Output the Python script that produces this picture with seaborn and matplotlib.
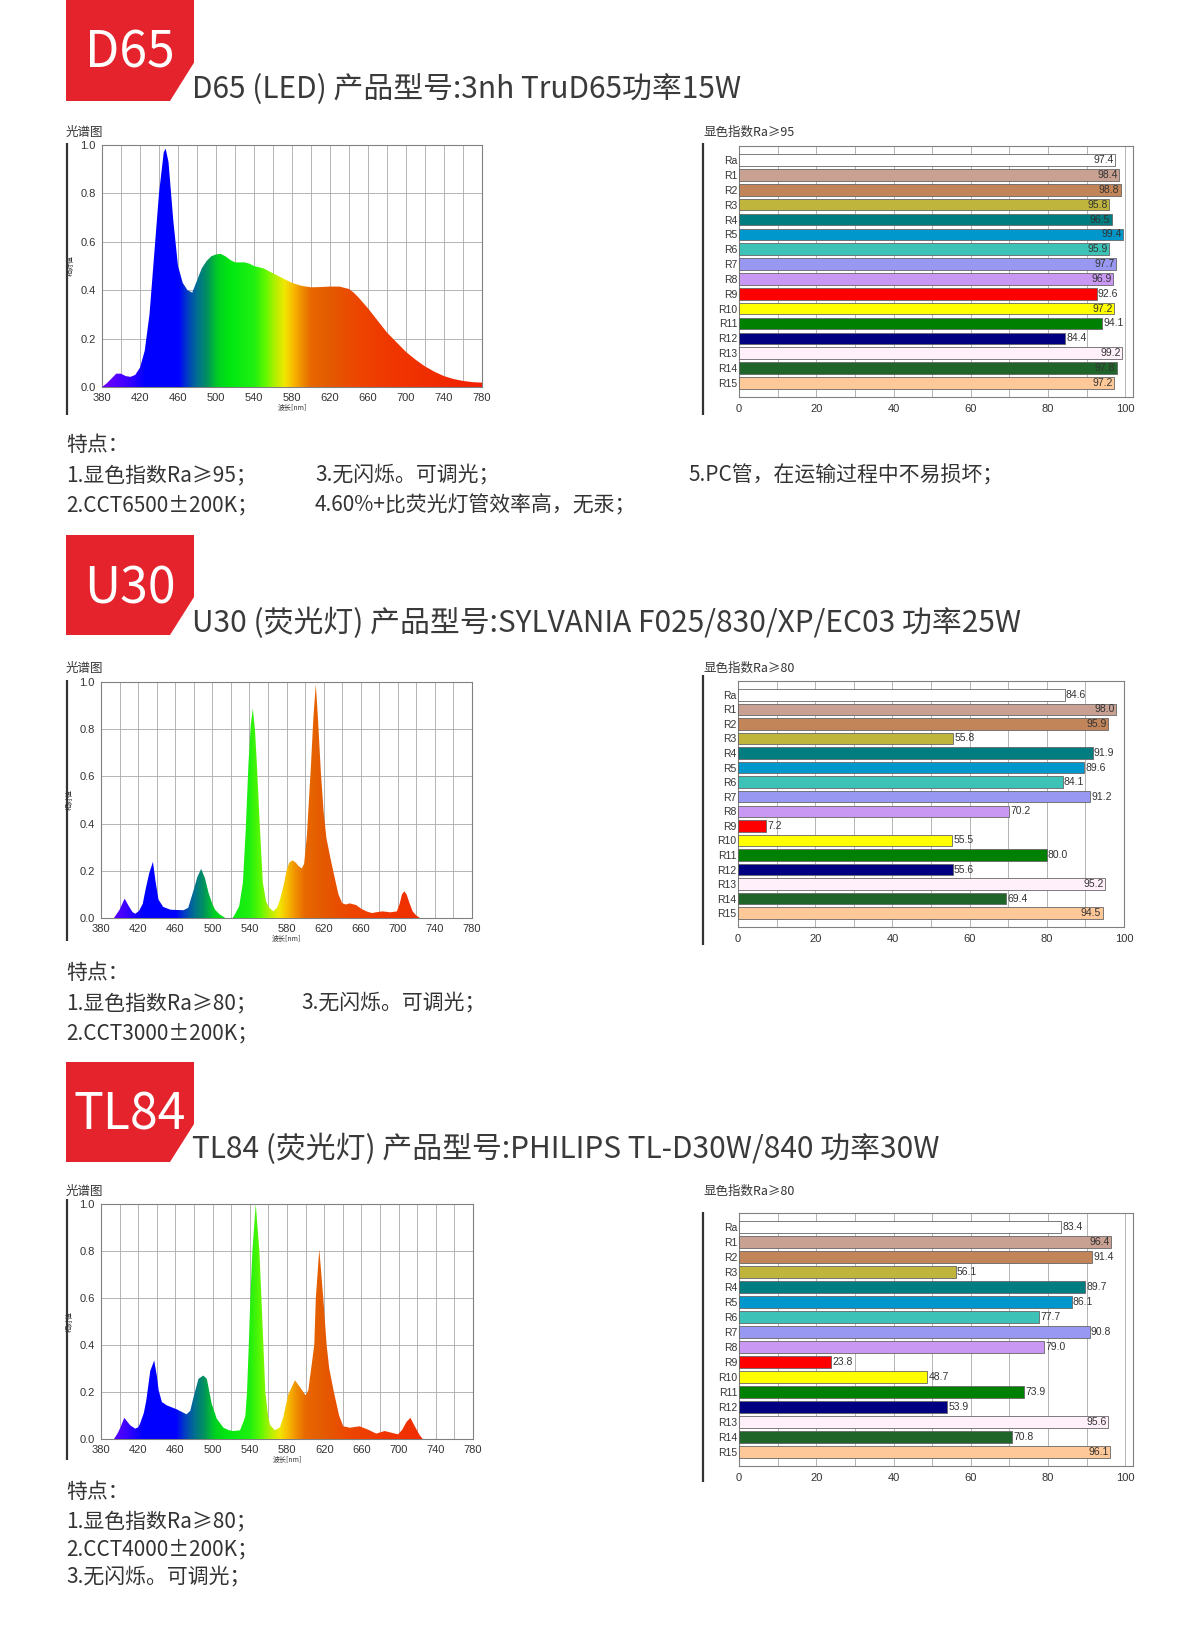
import numpy as np
import pandas as pd
import matplotlib
matplotlib.use('Agg')
import matplotlib.pyplot as plt
import seaborn as sns
from matplotlib.colors import LinearSegmentedColormap, Normalize
from matplotlib.patches import Polygon, PathPatch
from matplotlib.ticker import MultipleLocator, FixedLocator

# ---------------- data ----------------
CRI_LABELS = ["Ra", "R1", "R2", "R3", "R4", "R5", "R6", "R7", "R8",
              "R9", "R10", "R11", "R12", "R13", "R14", "R15"]
CRI_COLORS = ["#FFFFFF", "#C8A192", "#C2855A", "#BFB43C", "#007D80", "#0098CC",
              "#3CC2B6", "#9898F2", "#C898F2", "#FF0000", "#FFFF00", "#008000",
              "#000080", "#FFF0FA", "#1F6428", "#FFC898"]

D65_CRI = [97.4, 98.4, 98.8, 95.8, 96.5, 99.4, 95.9, 97.7, 96.9, 92.6, 97.2, 94.1, 84.4, 99.2, 97.8, 97.2]
U30_CRI = [84.6, 98.0, 95.9, 55.8, 91.9, 89.6, 84.1, 91.2, 70.2, 7.2, 55.5, 80.0, 55.6, 95.2, 69.4, 94.5]
TL84_CRI = [83.4, 96.4, 91.4, 56.1, 89.7, 86.1, 77.7, 90.8, 79.0, 23.8, 48.7, 73.9, 53.9, 95.6, 70.8, 96.1]

SPEC_TICKS = [380, 420, 460, 500, 540, 580, 620, 660, 700, 740, 780]

D65_NM = [380, 385, 390, 395, 400, 405, 410, 415, 420, 425, 430, 435, 440, 445, 447,
          450, 455, 460, 465, 470, 475, 480, 485, 490, 495, 500, 505, 510, 515, 520,
          525, 530, 535, 540, 545, 550, 560, 570, 580, 590, 600, 610, 620, 630, 640,
          645, 650, 660, 670, 680, 690, 700, 710, 720, 730, 740, 750, 760, 770, 780]
D65_VAL = [0.00, 0.015, 0.035, 0.055, 0.055, 0.045, 0.042, 0.05, 0.08, 0.15, 0.30, 0.55, 0.80, 0.97, 0.985,
           0.93, 0.69, 0.50, 0.43, 0.40, 0.39, 0.44, 0.49, 0.52, 0.54, 0.548, 0.55, 0.54, 0.525, 0.515,
           0.515, 0.515, 0.51, 0.50, 0.495, 0.49, 0.47, 0.45, 0.43, 0.418, 0.412, 0.413, 0.415, 0.415, 0.405,
           0.39, 0.37, 0.325, 0.275, 0.225, 0.185, 0.145, 0.113, 0.085, 0.063, 0.045, 0.033, 0.025, 0.02, 0.018]

U30_NM = [394, 400, 405.5, 410, 414, 417, 421, 425, 428, 432, 436, 439, 442, 447, 455,
          469, 474, 480, 484, 488, 492, 496, 500, 503, 508, 513, 514, 522, 525, 529,
          533, 536, 539, 541.5, 543.7, 546, 548, 551.5, 554.5, 558, 561, 566, 570, 573, 577,
          580, 583, 586.5, 590, 593, 596.5, 599, 602, 606, 609, 611.6, 614, 617, 620, 623,
          627, 632, 636, 640, 644, 648, 655, 661, 667, 672, 678, 683, 688, 692, 699,
          702, 704.5, 707, 709.5, 712, 716, 720, 724]
U30_VAL = [0.0, 0.035, 0.082, 0.05, 0.025, 0.018, 0.03, 0.06, 0.12, 0.19, 0.238, 0.15, 0.078, 0.047, 0.035,
           0.033, 0.043, 0.12, 0.175, 0.208, 0.17, 0.106, 0.06, 0.035, 0.015, 0.003, 0.0, 0.0, 0.02, 0.05,
           0.15, 0.37, 0.655, 0.82, 0.887, 0.80, 0.655, 0.37, 0.15, 0.07, 0.045, 0.028, 0.045, 0.078, 0.14,
           0.20, 0.235, 0.244, 0.235, 0.22, 0.21, 0.23, 0.35, 0.62, 0.85, 0.99, 0.84, 0.62, 0.45, 0.34,
           0.26, 0.17, 0.10, 0.063, 0.057, 0.062, 0.055, 0.038, 0.027, 0.021, 0.025, 0.028, 0.026, 0.024, 0.028,
           0.06, 0.10, 0.113, 0.10, 0.07, 0.028, 0.01, 0.0]

TL84_NM = [394, 398, 401, 405, 408, 411.5, 416.8, 420, 422, 426, 428.7, 433, 437.2, 440, 442,
           445.5, 450.8, 461.6, 472, 476, 479.5, 484.8, 490, 493.8, 499, 504.5, 511.7, 517, 522.4, 529.5,
           533.8, 535.3, 537, 538.9, 540.6, 542.8, 546.4, 550.3, 552.5, 554.6, 556.7, 559.6, 561.7, 567, 572.5,
           576, 581.4, 588.6, 594, 600, 602.9, 606, 609.3, 611, 614.7, 619, 622.6, 625.4, 630.4, 636,
           640.5, 647.6, 658, 667, 676, 685, 694, 699.5, 704, 708.4, 712.7, 717.4, 722.7, 726]
TL84_VAL = [0.0, 0.025, 0.05, 0.09, 0.075, 0.058, 0.044, 0.05, 0.065, 0.11, 0.164, 0.29, 0.334, 0.27, 0.207,
            0.157, 0.143, 0.126, 0.105, 0.12, 0.178, 0.256, 0.27, 0.256, 0.15, 0.086, 0.048, 0.038, 0.034, 0.037,
            0.08, 0.10, 0.20, 0.40, 0.60, 0.80, 1.0, 0.80, 0.60, 0.40, 0.20, 0.10, 0.06, 0.037, 0.05,
            0.093, 0.19, 0.25, 0.22, 0.186, 0.207, 0.30, 0.40, 0.60, 0.807, 0.60, 0.40, 0.30, 0.20, 0.10,
            0.054, 0.048, 0.054, 0.04, 0.023, 0.034, 0.025, 0.02, 0.04, 0.072, 0.09, 0.054, 0.016, 0.0]

SPEC_STOP_NM = [380, 405, 425, 460, 470, 480, 490, 502, 515, 540, 552, 562, 572, 580, 590, 600, 620, 645, 680, 780]
SPEC_STOP_COLOR = ["#7000FF", "#4000FF", "#0000FF", "#0000FF", "#0040C0", "#007090", "#009060",
                   "#00D020", "#00E810", "#20F010", "#60F800", "#B0F000", "#F0E800", "#F8C000",
                   "#F09000", "#E86800", "#E45A00", "#EC4800", "#F03800", "#F02000"]

TITLES = ["D65 (LED) 产品型号:3nh TruD65功率15W",
          "U30 (荧光灯) 产品型号:SYLVANIA F025/830/XP/EC03 功率25W",
          "TL84 (荧光灯) 产品型号:PHILIPS TL-D30W/840 功率30W"]
BADGES = ["D65", "U30", "TL84"]
CRI_TITLES = ["显色指数Ra≥95", "显色指数Ra≥80", "显色指数Ra≥80"]
FEAT_D65 = ["1.显色指数Ra≥95；", "3.无闪烁。可调光；", "5.PC管，在运输过程中不易损坏；",
            "2.CCT6500±200K；", "4.60%+比荧光灯管效率高，无汞；"]
FEAT_U30 = ["1.显色指数Ra≥80；", "3.无闪烁。可调光；", "2.CCT3000±200K；"]
FEAT_TL84 = ["1.显色指数Ra≥80；", "2.CCT4000±200K；", "3.无闪烁。可调光；"]

# ---------------- style ----------------
sns.set_style('white')
CJK = ['Noto Sans CJK SC', 'DejaVu Sans']
LAT = ['Liberation Sans', 'DejaVu Sans']
plt.rcParams['font.family'] = CJK

W, H = 1199, 1628
fig = plt.figure(figsize=(W / 100, H / 100), dpi=100)
fig.patch.set_facecolor('white')

def rect(x0, y0, x1, y1):
    return [x0 / W, 1 - y1 / H, (x1 - x0) / W, (y1 - y0) / H]

ov = fig.add_axes([0, 0, 1, 1])
ov.set_xlim(0, W)
ov.set_ylim(H, 0)
ov.axis('off')

SPEC_CMAP = LinearSegmentedColormap.from_list(
    'spec', [((n - 380) / 400, c) for n, c in zip(SPEC_STOP_NM, SPEC_STOP_COLOR)])

TXT = '#333333'
GRID = '#A8A8A8'

def spectrum(box, nm, val):
    ax = fig.add_axes(rect(*box))
    poly = ax.fill_between(nm, val, 0, facecolor='none', edgecolor='none', lw=0)
    patch = PathPatch(poly.get_paths()[0], transform=ax.transData,
                      facecolor='none', edgecolor='none')
    ax.add_patch(patch)
    grad = np.linspace(380, 780, 1200)[None, :]
    im = ax.imshow(grad, extent=[380, 780, 0, 1], origin='lower', aspect='auto',
                   cmap=SPEC_CMAP, norm=Normalize(380, 780), zorder=3,
                   interpolation='bilinear')
    im.set_clip_path(patch)
    ax.set_xlim(380, 780)
    ax.set_ylim(0, 1.0)
    ax.xaxis.set_major_locator(FixedLocator(SPEC_TICKS))
    ax.xaxis.set_minor_locator(MultipleLocator(20))
    ax.yaxis.set_major_locator(MultipleLocator(0.2))
    ax.set_axisbelow(True)
    ax.grid(True, which='both', axis='x', color=GRID, lw=0.6)
    ax.grid(True, which='major', axis='y', color=GRID, lw=0.6)
    ax.set_yticks(ax.get_yticks())
    ax.set_yticklabels([f'{t:.1f}' for t in ax.get_yticks()])
    ax.set_ylim(0, 1.0)
    ax.set_xlim(380, 780)
    ax.tick_params(which='major', length=3, width=0.6, color='#808080',
                   labelsize=8, pad=1.5, labelcolor='#333333')
    ax.tick_params(which='minor', length=0)
    for lb in ax.get_xticklabels() + ax.get_yticklabels():
        lb.set_fontfamily(LAT)
    for s in ax.spines.values():
        s.set_color('#808080')
        s.set_linewidth(0.8)
    ax.set_xlabel('波长[nm]', fontsize=5, labelpad=0, color='#333333')
    ax.set_ylabel('相对值', fontsize=5, labelpad=4, color='#333333')
    return ax

def cri(box, vals, xmax):
    ax = fig.add_axes(rect(*box))
    df = pd.DataFrame({'idx': CRI_LABELS, 'val': vals})
    sns.barplot(data=df, x='val', y='idx', hue='idx', palette=CRI_COLORS,
                legend=False, orient='h', width=0.78, edgecolor='#666666',
                linewidth=0.6, saturation=1, ax=ax, zorder=3)
    ax.set_xlim(0, xmax)
    ax.set_ylim(15.95, -0.95)
    ax.xaxis.set_major_locator(MultipleLocator(20))
    ax.xaxis.set_minor_locator(MultipleLocator(10))
    ax.set_axisbelow(True)
    ax.grid(True, which='both', axis='x', color=GRID, lw=0.6)
    ax.grid(False, axis='y')
    ax.set_xlabel('')
    ax.set_ylabel('')
    ax.tick_params(axis='x', which='major', length=3, width=0.6, color='#808080',
                   labelsize=8, pad=2, labelcolor='#333333')
    ax.tick_params(axis='x', which='minor', length=0)
    ax.tick_params(axis='y', length=0, labelsize=7.5, pad=1, labelcolor='#333333')
    for lb in ax.get_xticklabels() + ax.get_yticklabels():
        lb.set_fontfamily(LAT)
    for s in ax.spines.values():
        s.set_color('#808080')
        s.set_linewidth(0.8)
    for i, v in enumerate(vals):
        if v >= 94.5:
            ax.text(v - 0.4, i, f'{v:.1f}', ha='right', va='center', fontsize=7.5,
                    family=LAT, color='#333333', zorder=5)
        else:
            ax.text(v + 0.3, i, f'{v:.1f}', ha='left', va='center', fontsize=7.5,
                    family=LAT, color='#333333', zorder=5)
    return ax

# ---------------- layout ----------------
SECTIONS = [
    dict(badge_y=0, badge_h=101, btxt_y=68, title_y=98, sub_y=136,
         spec=(102, 145, 482, 387), bar=(739, 146, 1133, 397), xmax=102,
         lspec=(143, 415), lbar=(143, 415)),
    dict(badge_y=535, badge_h=100, btxt_y=603, title_y=632, sub_y=672,
         spec=(101, 682, 472, 918), bar=(738, 681, 1124, 927), xmax=100,
         lspec=(680, 941), lbar=(675, 945)),
    dict(badge_y=1062, badge_h=100, btxt_y=1129, title_y=1158, sub_y=1195,
         spec=(101, 1204, 473, 1439), bar=(739, 1213, 1133, 1466), xmax=102,
         lspec=(1199, 1460), lbar=(1212, 1482)),
]
SPECS = [(D65_NM, D65_VAL), (U30_NM, U30_VAL), (TL84_NM, TL84_VAL)]
CRIS = [D65_CRI, U30_CRI, TL84_CRI]

RED = '#E5232C'
for k, sec in enumerate(SECTIONS):
    y0, h = sec['badge_y'], sec['badge_h']
    ov.add_patch(Polygon([(66, y0), (194, y0), (194, y0 + 0.62 * h),
                          (170, y0 + h), (66, y0 + h)], closed=True,
                         facecolor=RED, edgecolor='none'))
    ov.text(130, sec['btxt_y'], BADGES[k], color='white', fontsize=36,
            ha='center', va='baseline')
    ov.text(192, sec['title_y'], TITLES[k], color='#3A3A3A', fontsize=21.5,
            ha='left', va='baseline')
    ov.text(66, sec['sub_y'], '光谱图', color=TXT, fontsize=9, ha='left', va='baseline')
    ov.text(703, sec['sub_y'], CRI_TITLES[k], color=TXT, fontsize=9, ha='left', va='baseline')
    ov.vlines(67, *sec['lspec'], color='#333333', lw=1.6)
    ov.vlines(703, *sec['lbar'], color='#333333', lw=1.6)
    spectrum(sec['spec'], *SPECS[k])
    cri(sec['bar'], CRIS[k], sec['xmax'])

FS = 15
# D65 features
ov.text(66, 451, '特点：', fontsize=FS, color=TXT, va='baseline')
ov.text(66, 481, FEAT_D65[0], fontsize=FS, color=TXT, va='baseline')
ov.text(315, 481, FEAT_D65[1], fontsize=FS, color=TXT, va='baseline')
ov.text(688, 481, FEAT_D65[2], fontsize=FS, color=TXT, va='baseline')
ov.text(66, 511, FEAT_D65[3], fontsize=FS, color=TXT, va='baseline')
ov.text(315, 511, FEAT_D65[4], fontsize=FS, color=TXT, va='baseline')
# U30 features
ov.text(66, 979, '特点：', fontsize=FS, color=TXT, va='baseline')
ov.text(66, 1009, FEAT_U30[0], fontsize=FS, color=TXT, va='baseline')
ov.text(301, 1009, FEAT_U30[1], fontsize=FS, color=TXT, va='baseline')
ov.text(66, 1039, FEAT_U30[2], fontsize=FS, color=TXT, va='baseline')
# TL84 features
ov.text(66, 1498, '特点：', fontsize=FS, color=TXT, va='baseline')
ov.text(66, 1527, FEAT_TL84[0], fontsize=FS, color=TXT, va='baseline')
ov.text(66, 1555, FEAT_TL84[1], fontsize=FS, color=TXT, va='baseline')
ov.text(66, 1583, FEAT_TL84[2], fontsize=FS, color=TXT, va='baseline')

fig.savefig('out.png', dpi=100, facecolor='white')
